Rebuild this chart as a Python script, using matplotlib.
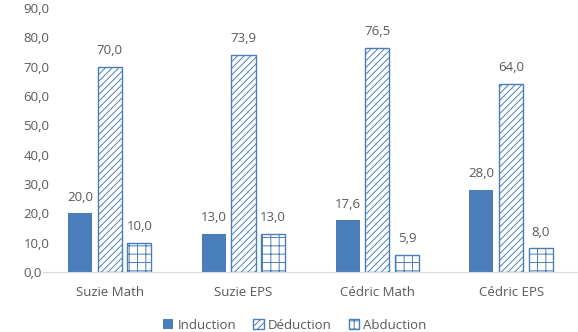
import numpy as np
import matplotlib
matplotlib.use('Agg')
import matplotlib.pyplot as plt

categories = ['Suzie Math', 'Suzie EPS', 'Cédric Math', 'Cédric EPS']
induction = [20.0, 13.0, 17.6, 28.0]
deduction = [70.0, 73.9, 76.5, 64.0]
abduction = [10.0, 13.0, 5.9, 8.0]
y_ticks = [0, 10, 20, 30, 40, 50, 60, 70, 80, 90]

blue = '#4a7ebb'
text_gray = '#595959'

plt.rcParams['font.family'] = ['Open Sans', 'DejaVu Sans']
plt.rcParams['hatch.linewidth'] = 0.7

fig = plt.figure(figsize=(5.78, 3.32), dpi=100)
ax = fig.add_axes([0.074, 0.181, 0.926, 0.795])

x = np.arange(len(categories))
w = 0.18
step = 0.222

b1 = ax.bar(x - step, induction, w, color=blue, label='Induction')
b2 = ax.bar(x, deduction, w, facecolor='white', edgecolor=blue, hatch='/////',
            linewidth=1.0, label='Déduction')
b3 = ax.bar(x + step, abduction, w, facecolor='white', edgecolor=blue, hatch='++',
            linewidth=1.0, label='Abduction')

for bars, vals in [(b1, induction), (b2, deduction), (b3, abduction)]:
    for rect, v in zip(bars, vals):
        ax.annotate(f'{v:.1f}'.replace('.', ','),
                    (rect.get_x() + rect.get_width() / 2, v),
                    xytext=(0, 7), textcoords='offset points',
                    ha='center', va='bottom', fontsize=9.5, color=text_gray)

ax.set_xlim(-0.5, 3.5)
ax.set_ylim(0, 90)
ax.set_yticks(y_ticks)
ax.set_yticklabels([f'{t:.1f}'.replace('.', ',') for t in y_ticks])
ax.set_xticks(x)
ax.set_xticklabels(categories)
ax.tick_params(axis='both', length=0, labelsize=9.5, colors=text_gray)
ax.tick_params(axis='x', pad=10)
ax.tick_params(axis='y', pad=14)
for lab in ax.get_yticklabels():
    lab.set_horizontalalignment('left')

for s in ['top', 'right', 'left']:
    ax.spines[s].set_visible(False)
ax.spines['bottom'].set_color('#d9d9d9')

fig.legend(handles=[b1, b2, b3], loc='lower center', ncol=3, frameon=False,
           fontsize=9.5, labelcolor=text_gray, bbox_to_anchor=(0.51, -0.035),
           handlelength=0.8, handleheight=0.8, handletextpad=0.3, columnspacing=1.3)

fig.savefig('out.png', dpi=100)
